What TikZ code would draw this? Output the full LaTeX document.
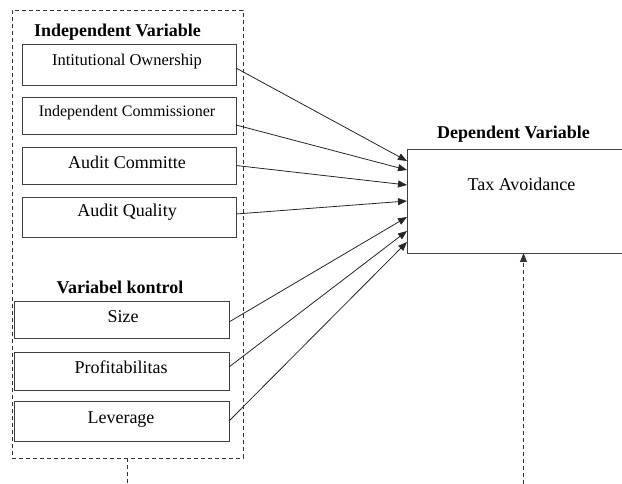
\documentclass[tikz,border=0pt]{standalone}
\usepackage{fontspec}
\setmainfont{Liberation Serif}
\usetikzlibrary{arrows.meta}
\begin{document}
\begin{tikzpicture}[x=1pt,y=-1pt,
 box/.style={draw=black!75,line width=0.8pt,rectangle,inner sep=0pt,outer sep=0pt},
 txt/.style={anchor=base,inner sep=0pt,font=\fontsize{18}{20}\selectfont},
 head/.style={anchor=base,inner sep=0pt,font=\fontsize{18}{20}\selectfont\bfseries},
 arr/.style={draw=black!85,line width=0.8pt,-{Triangle[length=9pt,width=7pt]}},
 dsh/.style={draw=black!80,line width=0.8pt,dash pattern=on 4pt off 3pt}]
\useasboundingbox (0,0) rectangle (622,484);
% outer dashed frame
\node[box,dsh,minimum width=231pt,minimum height=448pt] (outer) at (127.5,234) {};
% independent boxes
\node[box,minimum width=214pt,minimum height=41pt] (b1) at (129,64.5) {};
\node[box,minimum width=214pt,minimum height=37pt] (b2) at (129,115.5) {};
\node[box,minimum width=214pt,minimum height=37pt] (b3) at (129,165.5) {};
\node[box,minimum width=214pt,minimum height=40pt] (b4) at (129,217) {};
% control boxes
\node[box,minimum width=215pt,minimum height=37pt] (b5) at (121.5,319.5) {};
\node[box,minimum width=215pt,minimum height=38pt] (b6) at (121.5,371) {};
\node[box,minimum width=215pt,minimum height=40pt] (b7) at (121.5,421) {};
% dependent box
\node[box,minimum width=233pt,minimum height=104pt] (dep) at (523.5,201) {};
% texts
\node[head] (h1) at (117.5,37) {Independent Variable};
\node[head] (h2) at (120,294) {Variabel kontrol};
\node[head] (h3) at (513.5,139) {Dependent Variable};
\node[txt,font=\fontsize{16.5}{18}\selectfont] (t1) at (127,65.5) {Intitutional Ownership};
\node[txt,font=\fontsize{16}{18}\selectfont] (t2) at (127,117) {Independent Commissioner};
\node[txt] (t3) at (127,169) {Audit Committe};
\node[txt] (t4) at (127,217) {Audit Quality};
\node[txt] (t5) at (123,322) {Size};
\node[txt] (t6) at (121,373) {Profitabilitas};
\node[txt] (t7) at (121,423) {Leverage};
\node[txt] (t8) at (521.5,191) {Tax Avoidance};
% arrows
\draw[arr] ([yshift=-3.5pt]b1.east) -- ([yshift=40pt]dep.west);
\draw[arr] ([yshift=-9.5pt]b2.east) -- ([yshift=31pt]dep.west);
\draw[arr] (b3.east) -- ([yshift=16pt]dep.west);
\draw[arr] ([yshift=3pt]b4.east) -- (dep.west);
\draw[arr] ([yshift=-2.5pt]b5.east) -- ([yshift=-16pt]dep.west);
\draw[arr] ([yshift=4pt]b6.east) -- ([yshift=-30pt]dep.west);
\draw[arr] (b7.east) -- ([yshift=-41pt]dep.west);
% dashed links
\coordinate (lb) at (127.5,484);
\draw[dsh] (outer.south) -- (lb);
\coordinate (cb) at (523.5,484);
\draw[dsh,-{Triangle[length=9pt,width=7pt]}] (cb) -- (dep.south);
\end{tikzpicture}
\end{document}
